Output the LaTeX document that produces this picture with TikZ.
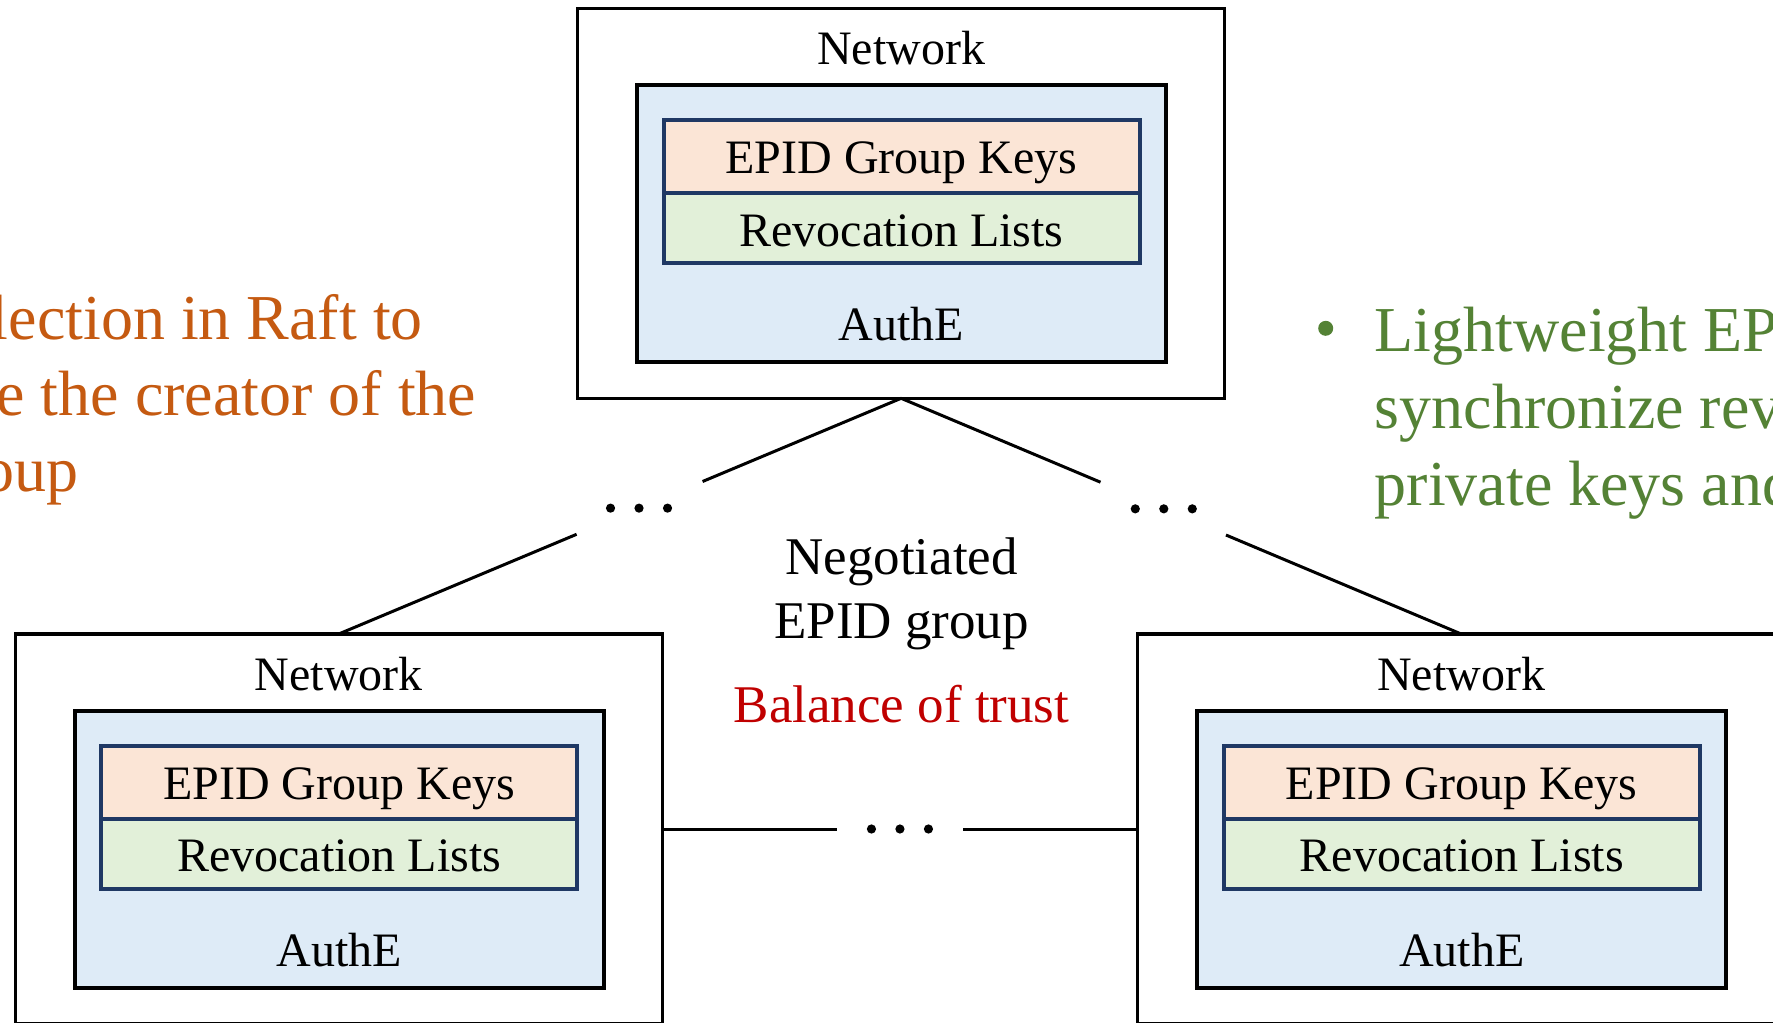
\documentclass[tikz,border=0pt]{standalone}
\usepackage{fontspec}
\setmainfont{Liberation Serif}
\usetikzlibrary{calc}

\definecolor{authfill}{HTML}{DEEBF7}
\definecolor{keysfill}{HTML}{FBE5D6}
\definecolor{revfill}{HTML}{E2F0D9}
\definecolor{navyline}{HTML}{1F3864}
\definecolor{raftorange}{HTML}{C55A11}
\definecolor{notegreen}{HTML}{548235}
\definecolor{trustred}{HTML}{C00000}

\tikzset{
  netbox/.style={rectangle, draw=black, line width=3.2pt, fill=white,
    inner sep=0pt, outer sep=0pt, minimum width=647pt, minimum height=390pt},
  authbox/.style={rectangle, draw=black, line width=4pt, fill=authfill,
    inner sep=0pt, outer sep=0pt, minimum width=529pt, minimum height=277pt},
  keysbox/.style={rectangle, draw=navyline, line width=4pt, fill=keysfill,
    inner sep=0pt, outer sep=0pt, minimum width=476pt, minimum height=72.5pt},
  revbox/.style={rectangle, draw=navyline, line width=4pt, fill=revfill,
    inner sep=0pt, outer sep=0pt, minimum width=476pt, minimum height=73.5pt},
  boxtext/.style={font=\fontsize{48pt}{57.6pt}\selectfont, anchor=base, inner sep=0pt},
  midtext/.style={font=\fontsize{53pt}{63.6pt}\selectfont, anchor=base, inner sep=0pt},
  sidetext/.style={font=\fontsize{64pt}{76.8pt}\selectfont, inner sep=0pt},
  link/.style={line width=3pt, draw=black},
  gapdots/.pic={
    \fill (-28.5,0) circle[radius=4.6pt];
    \fill (0,0) circle[radius=4.6pt];
    \fill (28.5,0) circle[radius=4.6pt];
  }
}

% One network member: #1 name, #2 left x and #3 top y of its network box
\newcommand{\drawenclave}[3]{%
  \node[netbox] (#1-net) at ({#2+323.5},{#3+195}) {};
  \node[authbox] (#1-auth) at ({#2+324},{#3+215.5}) {};
  \node[revbox] (#1-rev) at ({#2+324},{#3+218.25}) {};
  \node[keysbox] (#1-keys) at ({#2+324},{#3+148.25}) {};
  \node[boxtext] (#1-netlabel) at ({#2+323.5},{#3+56.3}) {Network};
  \node[boxtext] (#1-keyslabel) at ({#2+324},{#3+165.3}) {EPID Group Keys};
  \node[boxtext] (#1-revlabel) at ({#2+324},{#3+237.7}) {Revocation Lists};
  \node[boxtext] (#1-authlabel) at ({#2+324},{#3+332}) {AuthE};
}

\begin{document}
\begin{tikzpicture}[x=1pt, y=-1pt]
  \useasboundingbox (0,0) rectangle (1773,1023);
  \fill[white] (0,0) rectangle (1773,1023);
  \clip (0,0) rectangle (1773,1023);

  % the three members
  \drawenclave{top}{577.6}{8.3}
  \drawenclave{left}{15.2}{634}
  \drawenclave{right}{1137.7}{634}

  % top to left member, interrupted by an ellipsis
  \coordinate (lgapA) at ($(top-net.south)!0.353!(left-net.north)$);
  \coordinate (ldots) at ($(top-net.south)!0.466!(left-net.north)$);
  \coordinate (lgapB) at ($(top-net.south)!0.577!(left-net.north)$);
  \draw[link] (top-net.south) -- (lgapA);
  \draw[link] (lgapB) -- (left-net.north);
  \pic at (ldots) {gapdots};

  % top to right member
  \coordinate (rgapA) at ($(top-net.south)!0.356!(right-net.north)$);
  \coordinate (rdots) at ($(top-net.south)!0.469!(right-net.north)$);
  \coordinate (rgapB) at ($(top-net.south)!0.580!(right-net.north)$);
  \draw[link] (top-net.south) -- (rgapA);
  \draw[link] (rgapB) -- (right-net.north);
  \pic at (rdots) {gapdots};

  % left to right member
  \coordinate (bgapA) at ($(left-net.east)!0.3686!(right-net.west)$);
  \coordinate (bdots) at ($(left-net.east)!0.5!(right-net.west)$);
  \coordinate (bgapB) at ($(left-net.east)!0.633!(right-net.west)$);
  \draw[link] (left-net.east) -- (bgapA);
  \draw[link] (bgapB) -- (right-net.west);
  \pic at (bdots) {gapdots};

  % centre caption
  \node[midtext] (nego) at (901.5,574.3) {Negotiated};
  \node[midtext] (negogroup) at (901.5,638) {EPID group};
  \node[midtext, text=trustred] (balance) at (901.5,722.3) {Balance of trust};

  % notes at the sides
  \node[sidetext, text=raftorange, anchor=base east] (raft1) at (423,339) {lection in Raft to};
  \node[sidetext, text=raftorange, anchor=base east] (raft2) at (476.5,415.7) {e the creator of the};
  \node[sidetext, text=raftorange, anchor=base east] (raft3) at (78.5,491.7) {oup};

  \node[circle, fill=notegreen, minimum size=15pt, inner sep=0pt] (bullet) at (1325.7,328.3) {};
  \node[sidetext, text=notegreen, anchor=base west] (light1) at (1374.5,351.7) {Lightweight EP};
  \node[sidetext, text=notegreen, anchor=base west] (light2) at (1374.5,428.3) {synchronize rev};
  \node[sidetext, text=notegreen, anchor=base west] (light3) at (1374.5,505) {private keys and};
\end{tikzpicture}
\end{document}
